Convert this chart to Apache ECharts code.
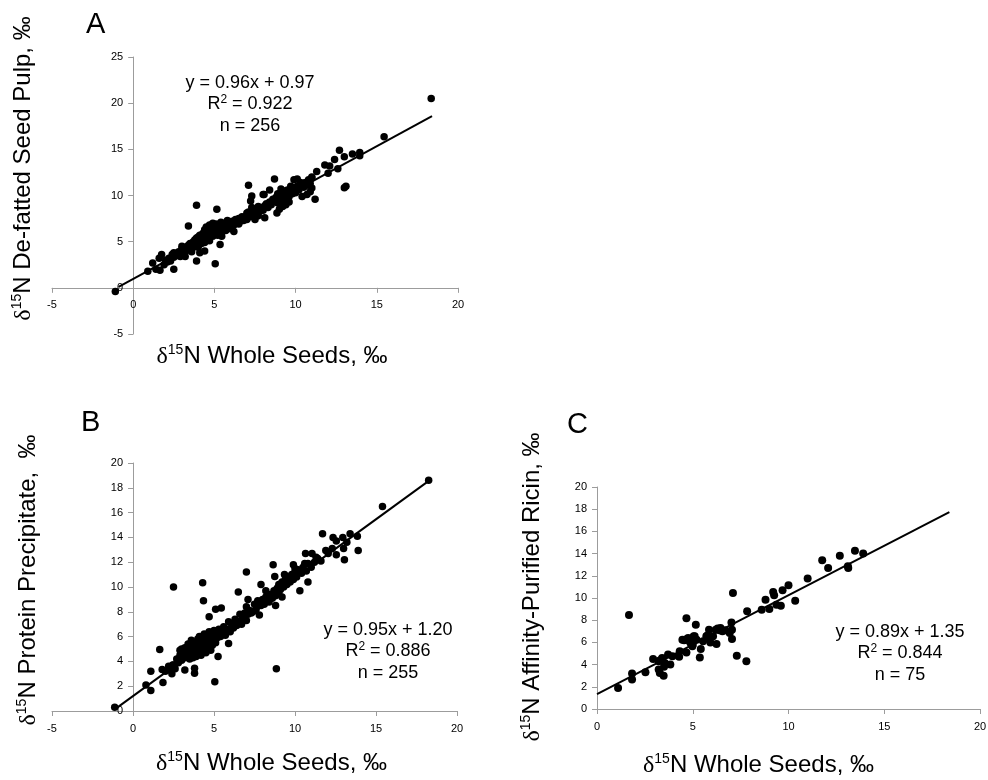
<!DOCTYPE html>
<html>
<head>
<meta charset="utf-8">
<script src="https://cdn.jsdelivr.net/npm/echarts@6/dist/echarts.min.js"></script>
<style>
html,body{margin:0;padding:0;background:#fff;}
#chart{width:988px;height:780px;}
</style>
</head>
<body>
<div id="chart"></div>
<script>
// Panel letters
const panelLetters = ['A', 'B', 'C'];

// Axis names (rich text: delta, superscript 15, rest)
const xAxisName = 'N Whole Seeds, ‰';
const yAxisNames = ['N De-fatted Seed Pulp, ‰', 'N Protein Precipitate,  ‰', 'N Affinity-Purified Ricin, ‰'];

// Axis ranges / ticks  [min, max, interval]
const xRanges = [[-5, 20, 5], [-5, 20, 5], [0, 20, 5]];
const yRanges = [[-5, 25, 5], [0, 20, 2], [0, 20, 2]];

// Regression annotations
const eqText = ['y = 0.96x + 0.97', 'y = 0.95x + 1.20', 'y = 0.89x + 1.35'];
const r2Text = ['0.922', '0.886', '0.844'];
const nText = ['n = 256', 'n = 255', 'n = 75'];

// Trend line endpoints
const trendA = [[-0.9, 0.1], [18.4, 18.6]];
const trendB = [[-1.0, 0.25], [18.3, 18.6]];
const trendC = [[0, 1.35], [18.4, 17.73]];

// Panel A: whole seeds vs de-fatted seed pulp
const pointsA = [
[-1.1,-0.4],[18.35,20.5],[15.45,16.35],[13.95,14.3],[13.95,14.65],[13.5,14.5],[12.7,14.9],[13.0,14.2],[12.4,13.9],
[11.8,13.3],[12.1,13.2],[12.0,12.4],[12.6,12.9],[13.1,11.0],[13.0,10.85],[11.3,12.6],[11.0,12.0],[11.2,9.6],
[10.4,9.9],[11.0,10.8],[10.9,10.4],[10.3,11.4],[9.9,11.7],[10.1,11.8],[9.7,11.0],[8.7,11.8],[9.1,10.7],[9.4,10.1],
[8.85,9.6],[8.85,8.1],[8.4,10.6],[8.0,10.1],[7.1,11.1],[7.3,8.7],[7.8,8.7],[7.7,7.8],[8.1,7.6],[7.5,7.4],[7.0,8.1],
[6.6,7.4],[6.2,6.1],[5.45,5.6],[5.15,8.5],[5.35,4.7],[5.05,2.6],[3.9,8.95],[3.4,6.7],[3.9,2.9],[4.1,3.8],[4.4,4.0],
[2.5,2.0],[1.65,1.9],[1.2,2.7],[1.75,3.6],[0.9,1.8],[2.5,3.8],[3.0,4.5],[3.2,3.4],[7.3,9.95],[8.06,10.1],[7.23,9.4],
[1.4,2.0],[1.9,2.5],[1.6,3.2],[2.1,2.8],[9.0,8.5],[9.2,8.8],[9.4,9.0],[9.6,9.3],[10.7,10.1],
[2.0,3.0],[2.2,3.2],[2.3,2.9],[2.4,3.6],[2.5,3.3],[2.6,3.7],[2.7,3.5],[2.8,3.9],[2.9,3.4],[3.0,4.2],[3.0,3.8],[3.1,4.0],
[3.2,4.4],[3.2,3.9],[3.3,4.1],[3.4,4.6],[3.5,4.3],[3.5,4.8],[3.6,4.5],[3.6,3.9],[3.7,5.0],[3.7,4.4],[3.8,4.7],[3.8,5.2],
[3.9,4.5],[3.9,5.4],[4.0,4.9],[4.0,5.5],[4.0,4.4],
[4.1,5.1],[4.1,5.7],[4.2,4.8],[4.2,5.4],[4.3,5.9],[4.3,5.2],[4.4,5.6],[4.4,6.3],[4.4,4.9],[4.5,5.8],[4.5,5.3],[4.5,6.6],
[4.6,6.0],[4.6,5.5],[4.7,6.2],[4.7,5.1],[4.7,6.8],[4.8,5.8],[4.8,6.4],[4.9,6.1],[4.9,5.6],[4.9,7.0],[5.0,6.3],[5.0,5.9],[5.0,6.7],
[5.1,6.0],[5.1,6.9],[5.2,6.4],[5.2,5.7],[5.3,6.6],[5.3,6.1],[5.4,7.1],[5.4,6.3],[5.5,6.8],[5.6,6.5],[5.6,7.0],[5.7,6.2],
[5.8,6.9],[5.8,7.3],[5.9,6.6],[6.0,7.0],[6.0,6.4],
[6.1,7.2],[6.2,6.8],[6.3,7.4],[6.3,7.0],[6.4,7.1],[6.5,7.5],[6.5,6.9],[6.6,7.2],[6.7,7.7],[6.8,7.3],[6.9,7.6],[7.0,7.4],[7.0,7.9],
[7.1,8.2],[7.2,7.7],[7.3,8.3],[7.4,7.8],[7.5,8.5],[7.6,8.0],[7.7,8.8],[7.8,8.3],[7.9,8.6],[8.0,8.4],
[8.1,8.9],[8.2,9.1],[8.3,8.7],[8.4,9.3],[8.5,9.0],[8.6,9.6],[8.7,9.4],[8.8,9.8],[8.9,9.2],[8.9,10.2],[9.0,9.6],[9.0,10.0],
[9.1,10.3],[9.2,9.8],[9.2,9.3],[9.3,10.1],[9.3,10.5],[9.4,9.7],[9.5,10.2],[9.5,10.6],[9.6,9.9],[9.7,10.4],[9.8,10.2],
[9.8,10.7],[9.9,10.5],[10.0,10.8],[10.0,10.3],
[10.1,11.0],[10.2,10.6],[10.4,11.2],[10.5,10.9],[10.6,11.4],[10.7,11.1],[10.8,11.7],[10.9,11.3],[11.0,11.9]
];

// Panel B: whole seeds vs protein precipitate
const pointsB = [
[-1.13,0.3],[18.25,18.6],[15.4,16.5],[11.7,14.3],[12.35,14.0],[12.95,14.0],[13.4,14.3],[13.85,14.1],[12.55,13.7],
[13.9,12.95],[13.05,12.2],[12.55,12.6],[11.9,12.95],[12.05,12.7],[13.0,13.1],[10.65,12.7],[11.05,12.7],[10.8,10.4],
[10.3,9.7],[9.9,11.8],[9.35,11.0],[8.65,11.8],[8.75,10.85],[8.8,8.5],[8.85,3.4],[8.2,9.7],[7.9,10.2],[7.0,11.2],
[6.5,9.6],[7.8,7.75],[7.1,9.0],[5.9,5.45],[5.25,4.4],[5.05,2.35],[5.45,8.3],[5.1,8.2],[4.7,7.6],[4.35,8.9],[4.3,10.35],
[2.5,10.0],[1.65,4.95],[1.1,3.2],[1.1,1.65],[0.8,2.1],[1.8,3.35],[1.85,2.3],[2.4,3.0],[3.2,3.3],[3.8,3.45],[3.8,3.05],
[2.9,4.9],[2.45,3.7],[3.6,5.7],[10.0,11.5],[10.6,11.9],[11.3,12.4],[11.6,12.1],[12.3,13.1],[13.2,13.6],[7.3,7.9],
[2.0,3.2],[2.2,3.6],[2.3,3.3],[2.5,3.7],[2.6,3.4],[2.7,4.2],[2.8,3.9],[2.9,4.5],[3.0,4.1],[3.0,5.0],[3.1,4.6],[3.2,4.3],
[3.2,5.1],[3.3,4.8],[3.4,4.4],[3.4,5.4],[3.5,4.9],[3.5,4.2],[3.6,5.2],[3.6,4.6],[3.7,4.9],[3.7,4.3],[3.8,5.5],[3.8,4.7],
[3.9,5.0],[3.9,4.4],[4.0,5.3],[4.0,5.8],[4.0,4.6],[4.1,5.0],[4.1,6.0],[4.2,5.4],[4.2,4.5],[4.3,5.7],[4.3,4.9],[4.4,5.2],
[4.4,6.2],[4.5,5.5],[4.5,4.7],[4.6,5.9],[4.6,5.1],[4.7,6.4],[4.7,5.4],[4.8,5.7],[4.8,4.9],[4.9,6.1],[4.9,5.3],[5.0,5.8],
[5.0,6.5],[5.1,5.5],[5.2,6.2],[5.2,5.9],[5.3,6.6],[5.4,6.0],[5.5,6.3],[5.6,6.8],[5.7,6.1],[5.8,6.6],[5.9,7.2],[6.0,6.4],
[6.1,7.0],[6.2,6.7],[6.3,7.4],[6.4,6.9],[6.5,7.2],[6.6,7.8],[6.7,7.0],[6.8,7.5],[6.9,7.9],[7.0,7.3],[7.0,8.4],[7.1,7.8],
[7.2,8.1],[7.4,8.0],[7.5,8.6],[7.6,8.2],[7.7,8.9],[7.9,8.5],[8.0,9.0],[8.1,8.6],[8.2,9.2],[8.4,8.8],[8.5,9.4],[8.6,9.1],
[8.7,9.7],[8.8,9.3],[8.9,9.9],[9.0,9.5],[9.0,10.2],[9.1,9.8],[9.2,10.4],[9.2,9.2],[9.3,10.0],[9.4,10.6],[9.5,10.2],
[9.6,10.8],[9.7,10.4],[9.8,11.0],[9.9,10.6],[10.0,11.2],[10.1,10.8],[10.2,11.4],[10.4,11.1],[10.5,11.6],[10.7,11.3],
[10.8,11.9],[11.0,11.6],[11.2,12.0],[11.4,12.3]
];

// Panel C: whole seeds vs affinity-purified ricin
const pointsC = [
[1.1,1.9],[1.67,8.47],[1.83,3.2],[1.83,2.65],[2.53,3.3],[2.93,4.5],[3.22,4.3],[3.22,3.55],[3.28,3.25],[3.48,3.0],
[3.4,4.6],[3.54,4.15],[3.71,4.9],[3.83,4.0],[3.94,4.75],[4.32,5.2],[4.29,4.7],[4.46,6.25],[4.62,6.25],[4.67,8.17],
[4.67,5.1],[4.76,6.4],[4.88,5.95],[4.98,5.65],[5.1,6.55],[5.16,7.6],[5.2,6.25],[5.37,4.65],[5.42,5.4],[5.54,6.1],
[5.71,6.55],[5.85,7.15],[5.92,6.0],[6.06,6.55],[6.24,5.85],[6.2,7.15],[6.45,7.3],[6.55,7.0],[6.93,6.85],[7.05,7.15],
[7.02,7.8],[7.05,6.3],[7.1,10.45],[7.3,4.8],[7.8,4.3],[7.84,8.8],[8.6,8.95],[8.8,9.85],[9.0,9.0],[9.2,10.55],
[9.25,10.25],[9.37,9.4],[9.6,9.3],[9.69,10.7],[10.0,11.15],[10.35,9.75],[11.0,11.75],[11.76,13.4],[12.07,12.7],
[12.68,13.8],[13.12,12.7],[13.1,12.85],[13.47,14.25],[13.9,14.0],[4.7,6.3],[4.85,6.1],[5.0,5.8],[5.05,6.55],
[6.4,7.1],[6.7,7.1],[3.3,4.4],[3.5,3.8],[4.55,6.2],[6.3,7.25],[5.75,6.6]
];

const FONT = 'Liberation Sans';
const superRich = {
  d: {fontSize: 24, fontFamily: 'Liberation Serif', color: '#000', lineHeight: 27},
  s: {fontSize: 14, fontFamily: FONT, color: '#000', verticalAlign: 'top', lineHeight: 14},
  n: {fontSize: 24, fontFamily: FONT, color: '#000', lineHeight: 27}
};
function richName(rest) { return '{d|δ}{s|15}{n|' + rest + '}'; }

const grids = [
  {left: 52, top: 57, width: 406, height: 277},
  {left: 52, top: 463, width: 405, height: 248},
  {left: 597, top: 487, width: 383, height: 222}
].map(g => Object.assign(g, {containLabel: false, outerBoundsMode: 'none'}));

// Axes cross at zero: shift each axis (line, ticks, labels, name) to the zero position
function zeroShift(range, len) { return range[0] < 0 ? -len * (0 - range[0]) / (range[1] - range[0]) : 0; }

const xNameGap = [55, 39, 43];
const xNamePad = [[0, 0, 0, 34], [0, 0, 0, 34], [0, 60, 0, 0]];
const yNameGap = [96, 91, 51];
const yNamePad = [[0, 0, 0, 54], [0, 0, 0, 14], [0, 0, 0, 22]];

const axisCommon = {
  type: 'value',
  splitLine: {show: false},
  axisLine: {show: true, onZero: false, lineStyle: {color: '#9c9c9c', width: 1}},
  axisTick: {show: true, length: 5, lineStyle: {color: '#9c9c9c'}},
  axisLabel: {color: '#000', fontSize: 11, fontFamily: FONT}
};

const xAxes = xRanges.map((r, i) => Object.assign({}, axisCommon, {
  gridIndex: i, min: r[0], max: r[1], interval: r[2], position: 'bottom',
  offset: zeroShift(yRanges[i], grids[i].height),
  axisLabel: Object.assign({}, axisCommon.axisLabel, {margin: 12}),
  name: richName(xAxisName), nameLocation: 'middle', nameGap: xNameGap[i],
  nameTextStyle: {rich: superRich, padding: xNamePad[i]}
}));
const yAxes = yRanges.map((r, i) => Object.assign({}, axisCommon, {
  gridIndex: i, min: r[0], max: r[1], interval: r[2], position: 'left',
  offset: zeroShift(xRanges[i], grids[i].width),
  axisLabel: Object.assign({}, axisCommon.axisLabel, {margin: 10}),
  name: richName(yAxisNames[i]), nameLocation: 'middle', nameGap: yNameGap[i], nameRotate: 90,
  nameTextStyle: {rich: superRich, padding: yNamePad[i]}
}));

const scatterSeries = [pointsA, pointsB, pointsC].map((pts, i) => ({
  type: 'scatter', xAxisIndex: i, yAxisIndex: i, data: pts,
  symbol: 'circle', symbolSize: i === 2 ? 8 : 7.5,
  itemStyle: {color: '#000', opacity: 1}, silent: true
}));
const lineSeries = [trendA, trendB, trendC].map((pts, i) => ({
  type: 'line', xAxisIndex: i, yAxisIndex: i, data: pts,
  symbol: 'none', lineStyle: {color: '#000', width: 2}, silent: true, z: 3
}));

const annoPos = [[250, 83], [388, 630], [900, 632]];
const annoRich = {
  t: {fontSize: 18, fontFamily: FONT, color: '#000', lineHeight: 21.5, align: 'center'},
  u: {fontSize: 12, fontFamily: FONT, color: '#000', verticalAlign: 'top', lineHeight: 12}
};
const graphics = [];
annoPos.forEach((p, i) => {
  graphics.push({type: 'text', x: p[0], y: p[1] - 11, style: {
    text: '{t|' + eqText[i] + '}\n{t|R}{u|2}{t| = ' + r2Text[i] + '}\n{t|' + nText[i] + '}',
    rich: annoRich, align: 'center', verticalAlign: 'top'
  }});
});

const titles = [
  {text: panelLetters[0], left: 86, top: 10},
  {text: panelLetters[1], left: 81, top: 408},
  {text: panelLetters[2], left: 567, top: 410}
].map(t => Object.assign(t, {padding: 0, textStyle: {fontSize: 29, fontWeight: 'normal', color: '#000', fontFamily: FONT}}));

const chart = echarts.init(document.getElementById('chart'), null, {renderer: 'canvas'});
chart.setOption({
  animation: false,
  backgroundColor: '#fff',
  title: titles,
  grid: grids,
  xAxis: xAxes,
  yAxis: yAxes,
  series: scatterSeries.concat(lineSeries),
  graphic: graphics
});
</script>
</body>
</html>
